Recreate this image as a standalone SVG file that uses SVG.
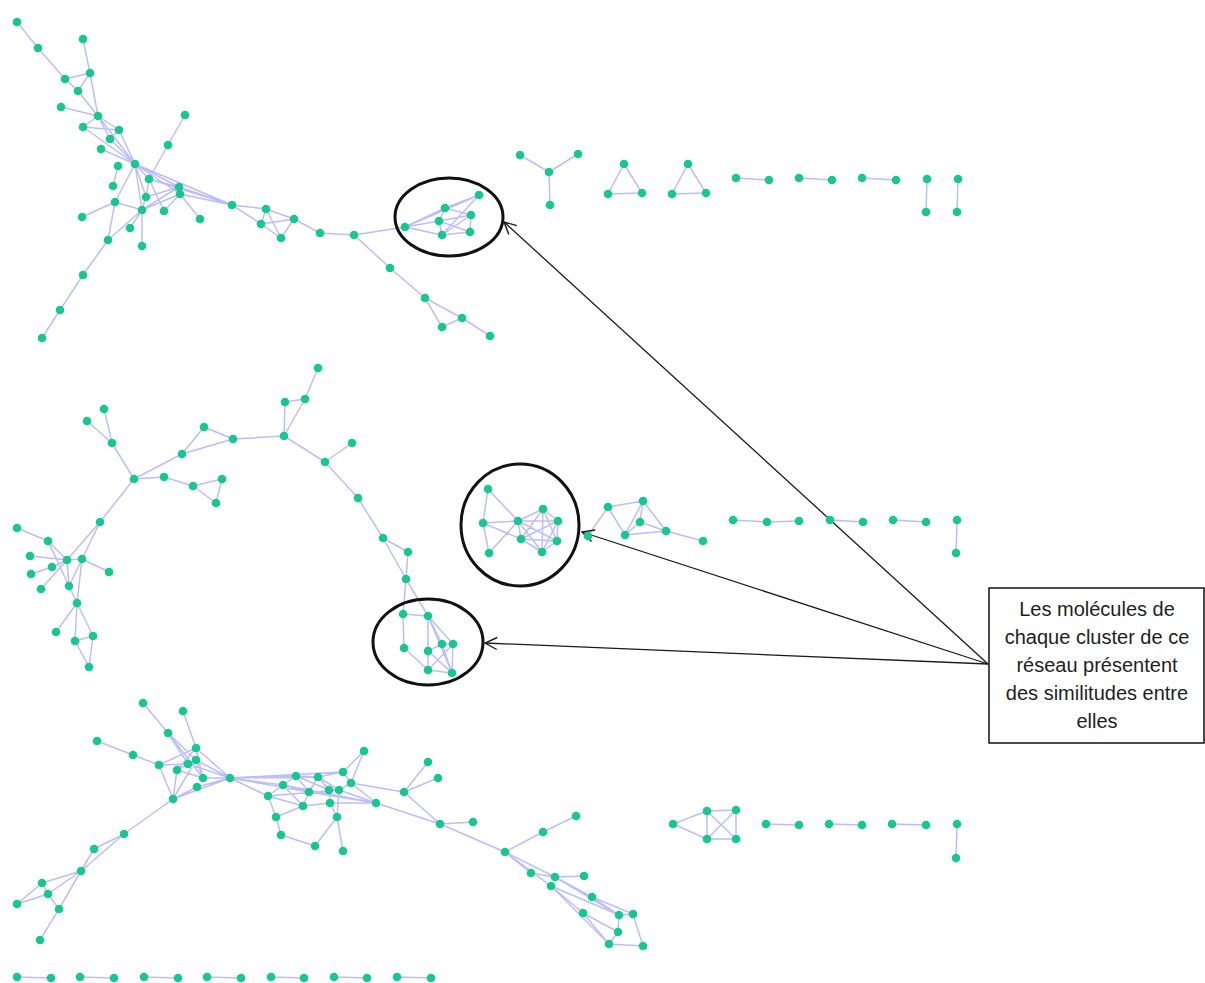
<svg xmlns="http://www.w3.org/2000/svg" width="1205" height="983" viewBox="0 0 1205 983">
<style>
.n{fill:#17c78f}
.e{stroke:#9a9af8;stroke-width:1.5;fill:none;opacity:.65}
.ring{fill:none;stroke:#111;stroke-width:3}
.arr{stroke:#1a1a1a;stroke-width:1.3;fill:none}
.t{font-family:"Liberation Sans",Arial,sans-serif;font-size:20px;fill:#1e1e1e;text-anchor:middle}
</style>
<defs>
<marker id="ah" markerUnits="userSpaceOnUse" markerWidth="16" markerHeight="16" viewBox="0 0 16 16" refX="15" refY="8" orient="auto">
<path d="M3,2 L15,8 L3,14" fill="none" stroke="#1a1a1a" stroke-width="1.4"/>
</marker>
</defs>
<rect width="1205" height="983" fill="#fff"/>
<g id="connectors">
<path class="e" d="M17 22L38 48M38 48L65 79M65 79L78 91M78 91L98 116M65 79L90 73M78 91L90 73M83 39L90 73M90 73L98 116M61 107L98 116M98 116L119 130M98 116L110 139M98 116L83 127M83 127L119 130M119 130L110 139M98 116L135 164M110 139L135 164M101 149L135 164M119 130L135 164M83 127L135 164M185 115L168 145M168 145L149 179M135 164L149 179M135 164L180 194M135 164L179 187M135 164L146 197M135 164L142 210M135 164L115 202M118 166L113 186M149 179L179 187M149 179L146 197M149 179L164 211M146 197L142 210M146 197L179 187M179 187L142 210M180 194L164 211M180 194L142 210M180 194L200 219M180 194L232 205M179 187L232 205M149 179L232 205M135 164L232 205M115 202L82 217M115 202L142 210M115 202L108 240M142 210L108 240M142 210L142 246M130 228L142 210M108 240L83 275M83 275L60 310M60 310L42 338M232 205L266 209M232 205L261 224M266 209L261 224M266 209L281 238M266 209L294 219M261 224L281 238M281 238L294 219M261 224L294 219M294 219L320 233M320 233L354 235M354 235L405 227M354 235L390 268M390 268L425 298M425 298L462 318M425 298L442 327M442 327L462 318M462 318L490 336M405 227L445 208M405 227L439 221M405 227L442 235M405 227L479 195M445 208L479 195M445 208L471 215M439 221L471 215M439 221L442 235M442 235L471 215M442 235L470 232M471 215L470 232M479 195L442 235M445 208L439 221M439 221L470 232"/>
<path class="e" d="M520 155L549 172M578 154L549 172M549 172L550 205M624 164L608 194M624 164L642 193M608 194L642 193M688 164L672 194M688 164L706 193M672 194L706 193M736 178L769 180M799 178L832 180M862 178L896 180M927 179L926 212M958 179L957 212"/>
<path class="e" d="M318 368L305 399M305 399L285 402M285 402L284 436M305 399L284 436M284 436L233 439M233 439L204 427M204 427L182 454M233 439L182 454M182 454L134 479M134 479L112 443M112 443L104 409M112 443L87 421M134 479L164 477M164 477L193 486M193 486L222 479M222 479L216 503M193 486L216 503M134 479L100 522M100 522L67 560M100 522L69 586M284 436L325 462M325 462L352 443M325 462L358 498M358 498L383 538M17 528L48 541M48 541L67 560M48 541L69 586M30 556L67 560M52 567L67 560M31 574L52 567M41 589L67 560M67 560L82 559M82 559L109 572M67 560L69 586M69 586L77 603M82 559L77 603M77 603L56 632M77 603L75 641M77 603L93 636M75 641L93 636M93 636L89 667M75 641L89 667M383 538L408 552M383 538L406 579M408 552L406 579M406 579L428 616M406 579L403 614M403 614L428 616M403 614L404 648M428 616L428 651M428 616L442 644M428 616L453 644M428 616L452 673M404 648L428 670M428 651L442 644M442 644L453 644M428 651L452 673M428 670L452 673M442 644L452 673M453 644L452 673M428 670L453 644M428 651L428 670"/>
<path class="e" d="M488 489L483 523M488 489L518 521M483 523L518 521M483 523L489 553M489 553L518 521M483 523L521 539M518 521L543 509M518 521L558 521M518 521L557 541M518 521L542 552M518 521L521 539M521 539L543 509M521 539L558 521M521 539L557 541M521 539L542 552M543 509L558 521M543 509L557 541M543 509L542 552M558 521L557 541M558 521L542 552M557 541L542 552M588 536L608 507M608 507L643 501M608 507L625 535M643 501L640 522M643 501L666 531M643 501L625 535M640 522L625 535M640 522L666 531M625 535L666 531M666 531L703 541M733 520L767 522M767 522L799 521M830 520L863 522M893 520L926 522M957 520L956 553"/>
<path class="e" d="M143 703L168 733M168 733L196 760M168 733L203 778M168 733L188 764M183 711L196 748M196 748L230 778M196 748L177 770M196 748L203 778M97 741L133 755M133 755L159 765M159 765L173 799M159 765L188 764M159 765L196 748M177 770L188 764M188 764L196 760M196 760L203 778M203 778L230 778M197 787L230 778M173 799L197 787M173 799L230 778M173 799L196 760M177 770L203 778M177 770L173 799M188 764L230 778M196 760L230 778M173 799L124 834M124 834L94 849M124 834L81 871M94 849L81 871M81 871L42 883M81 871L48 894M81 871L59 909M42 883L17 904M48 894L17 904M42 883L48 894M48 894L59 909M59 909L40 940M230 778L268 796M230 778L283 785M230 778L296 776M230 778L318 777M230 778L343 772M230 778L309 792M296 776L318 777M296 776L283 785M283 785L268 796M318 777L343 772M318 777L309 792M318 777L329 790M343 772L364 751M351 783L364 751M343 772L351 783M283 785L309 792M268 796L303 806M268 796L276 817M309 792L303 806M329 790L339 790M329 790L330 803M339 790L351 783M339 790L376 803M351 783L376 803M303 806L330 803M330 803L376 803M268 796L339 790M296 776L329 790M276 817L303 806M276 817L281 835M281 835L315 846M315 846L337 817M337 817L343 851M337 817L330 803M337 817L339 790M309 792L376 803M283 785L376 803M318 777L339 790M296 776L309 792M283 785L303 806M351 783L404 792M404 792L428 762M404 792L438 778M404 792L440 824M376 803L440 824M440 824L473 822M440 824L505 852M505 852L543 832M543 832L576 816M505 852L531 873M505 852L555 877M505 852L551 886M555 877L584 876M531 873L555 877M555 877L592 897M551 886L583 913M551 886L609 944M592 897L633 914M592 897L619 915M583 913L618 932M583 913L609 944M619 915L618 932M618 932L609 944M609 944L643 946M633 914L643 946M619 915L633 914M551 886L619 915M555 877L619 915"/>
<path class="e" d="M673 824L707 811M673 824L707 839M707 811L736 810M707 839L736 839M707 811L707 839M736 810L736 839M707 811L736 839M736 810L707 839M766 824L799 825M829 824L862 825M892 824L926 825M957 824L956 858M17 977L51 978M80 977L114 978M144 977L178 978M207 977L241 978M271 977L304 978M334 977L367 978M397 977L431 978"/>
<line class="arr" x1="988" y1="664" x2="504" y2="222" marker-end="url(#ah)"/>
<line class="arr" x1="988" y1="664" x2="582" y2="532" marker-end="url(#ah)"/>
<line class="arr" x1="988" y1="664" x2="485" y2="643" marker-end="url(#ah)"/>
</g>
<g id="rings">
<ellipse class="ring" cx="449" cy="217" rx="54" ry="39"/>
<ellipse class="ring" cx="520" cy="525" rx="59" ry="61"/>
<ellipse class="ring" cx="428" cy="642" rx="55" ry="43"/>
</g>
<g id="nodes">
<g id="a1"><circle class="n" cx="17" cy="22" r="4.3"/></g>
<g id="a2"><circle class="n" cx="38" cy="48" r="4.3"/></g>
<g id="a3"><circle class="n" cx="83" cy="39" r="4.3"/></g>
<g id="a4"><circle class="n" cx="90" cy="73" r="4.3"/></g>
<g id="a5"><circle class="n" cx="65" cy="79" r="4.3"/></g>
<g id="a6"><circle class="n" cx="78" cy="91" r="4.3"/></g>
<g id="a7"><circle class="n" cx="61" cy="107" r="4.3"/></g>
<g id="a8"><circle class="n" cx="98" cy="116" r="4.3"/></g>
<g id="a9"><circle class="n" cx="83" cy="127" r="4.3"/></g>
<g id="a10"><circle class="n" cx="119" cy="130" r="4.3"/></g>
<g id="a11"><circle class="n" cx="110" cy="139" r="4.3"/></g>
<g id="a12"><circle class="n" cx="101" cy="149" r="4.3"/></g>
<g id="a13"><circle class="n" cx="185" cy="115" r="4.3"/></g>
<g id="a14"><circle class="n" cx="168" cy="145" r="4.3"/></g>
<g id="a15"><circle class="n" cx="135" cy="164" r="4.3"/></g>
<g id="a16"><circle class="n" cx="118" cy="166" r="4.3"/></g>
<g id="a17"><circle class="n" cx="149" cy="179" r="4.3"/></g>
<g id="a18"><circle class="n" cx="113" cy="186" r="4.3"/></g>
<g id="a19"><circle class="n" cx="179" cy="187" r="4.3"/></g>
<g id="a20"><circle class="n" cx="180" cy="194" r="4.3"/></g>
<g id="a21"><circle class="n" cx="146" cy="197" r="4.3"/></g>
<g id="a22"><circle class="n" cx="115" cy="202" r="4.3"/></g>
<g id="a23"><circle class="n" cx="142" cy="210" r="4.3"/></g>
<g id="a24"><circle class="n" cx="164" cy="211" r="4.3"/></g>
<g id="a25"><circle class="n" cx="82" cy="217" r="4.3"/></g>
<g id="a26"><circle class="n" cx="200" cy="219" r="4.3"/></g>
<g id="a27"><circle class="n" cx="130" cy="228" r="4.3"/></g>
<g id="a28"><circle class="n" cx="108" cy="240" r="4.3"/></g>
<g id="a29"><circle class="n" cx="142" cy="246" r="4.3"/></g>
<g id="a30"><circle class="n" cx="83" cy="275" r="4.3"/></g>
<g id="a31"><circle class="n" cx="60" cy="310" r="4.3"/></g>
<g id="a32"><circle class="n" cx="42" cy="338" r="4.3"/></g>
<g id="a33"><circle class="n" cx="232" cy="205" r="4.3"/></g>
<g id="a34"><circle class="n" cx="266" cy="209" r="4.3"/></g>
<g id="a35"><circle class="n" cx="261" cy="224" r="4.3"/></g>
<g id="a36"><circle class="n" cx="281" cy="238" r="4.3"/></g>
<g id="a37"><circle class="n" cx="294" cy="219" r="4.3"/></g>
<g id="a38"><circle class="n" cx="320" cy="233" r="4.3"/></g>
<g id="a39"><circle class="n" cx="354" cy="235" r="4.3"/></g>
<g id="a40"><circle class="n" cx="405" cy="227" r="4.3"/></g>
<g id="a41"><circle class="n" cx="445" cy="208" r="4.3"/></g>
<g id="a42"><circle class="n" cx="439" cy="221" r="4.3"/></g>
<g id="a43"><circle class="n" cx="442" cy="235" r="4.3"/></g>
<g id="a44"><circle class="n" cx="479" cy="195" r="4.3"/></g>
<g id="a45"><circle class="n" cx="471" cy="215" r="4.3"/></g>
<g id="a46"><circle class="n" cx="470" cy="232" r="4.3"/></g>
<g id="a47"><circle class="n" cx="390" cy="268" r="4.3"/></g>
<g id="a48"><circle class="n" cx="425" cy="298" r="4.3"/></g>
<g id="a49"><circle class="n" cx="462" cy="318" r="4.3"/></g>
<g id="a50"><circle class="n" cx="442" cy="327" r="4.3"/></g>
<g id="a51"><circle class="n" cx="490" cy="336" r="4.3"/></g>
<g id="b1"><circle class="n" cx="520" cy="155" r="4.3"/></g>
<g id="b2"><circle class="n" cx="578" cy="154" r="4.3"/></g>
<g id="b3"><circle class="n" cx="549" cy="172" r="4.3"/></g>
<g id="b4"><circle class="n" cx="550" cy="205" r="4.3"/></g>
<g id="b5"><circle class="n" cx="624" cy="164" r="4.3"/></g>
<g id="b6"><circle class="n" cx="608" cy="194" r="4.3"/></g>
<g id="b7"><circle class="n" cx="642" cy="193" r="4.3"/></g>
<g id="b8"><circle class="n" cx="688" cy="164" r="4.3"/></g>
<g id="b9"><circle class="n" cx="672" cy="194" r="4.3"/></g>
<g id="b10"><circle class="n" cx="706" cy="193" r="4.3"/></g>
<g id="b11"><circle class="n" cx="736" cy="178" r="4.3"/></g>
<g id="b12"><circle class="n" cx="769" cy="180" r="4.3"/></g>
<g id="b13"><circle class="n" cx="799" cy="178" r="4.3"/></g>
<g id="b14"><circle class="n" cx="832" cy="180" r="4.3"/></g>
<g id="b15"><circle class="n" cx="862" cy="178" r="4.3"/></g>
<g id="b16"><circle class="n" cx="896" cy="180" r="4.3"/></g>
<g id="b17"><circle class="n" cx="927" cy="179" r="4.3"/></g>
<g id="b18"><circle class="n" cx="926" cy="212" r="4.3"/></g>
<g id="b19"><circle class="n" cx="958" cy="179" r="4.3"/></g>
<g id="b20"><circle class="n" cx="957" cy="212" r="4.3"/></g>
<g id="c1"><circle class="n" cx="318" cy="368" r="4.3"/></g>
<g id="c2"><circle class="n" cx="305" cy="399" r="4.3"/></g>
<g id="c3"><circle class="n" cx="285" cy="402" r="4.3"/></g>
<g id="c4"><circle class="n" cx="284" cy="436" r="4.3"/></g>
<g id="c5"><circle class="n" cx="233" cy="439" r="4.3"/></g>
<g id="c6"><circle class="n" cx="204" cy="427" r="4.3"/></g>
<g id="c7"><circle class="n" cx="182" cy="454" r="4.3"/></g>
<g id="c8"><circle class="n" cx="352" cy="443" r="4.3"/></g>
<g id="c9"><circle class="n" cx="325" cy="462" r="4.3"/></g>
<g id="c10"><circle class="n" cx="358" cy="498" r="4.3"/></g>
<g id="c11"><circle class="n" cx="104" cy="409" r="4.3"/></g>
<g id="c12"><circle class="n" cx="87" cy="421" r="4.3"/></g>
<g id="c13"><circle class="n" cx="112" cy="443" r="4.3"/></g>
<g id="c14"><circle class="n" cx="134" cy="479" r="4.3"/></g>
<g id="c15"><circle class="n" cx="164" cy="477" r="4.3"/></g>
<g id="c16"><circle class="n" cx="193" cy="486" r="4.3"/></g>
<g id="c17"><circle class="n" cx="222" cy="479" r="4.3"/></g>
<g id="c18"><circle class="n" cx="216" cy="503" r="4.3"/></g>
<g id="c19"><circle class="n" cx="100" cy="522" r="4.3"/></g>
<g id="c20"><circle class="n" cx="17" cy="528" r="4.3"/></g>
<g id="c21"><circle class="n" cx="48" cy="541" r="4.3"/></g>
<g id="c22"><circle class="n" cx="30" cy="556" r="4.3"/></g>
<g id="c23"><circle class="n" cx="67" cy="560" r="4.3"/></g>
<g id="c24"><circle class="n" cx="82" cy="559" r="4.3"/></g>
<g id="c25"><circle class="n" cx="52" cy="567" r="4.3"/></g>
<g id="c26"><circle class="n" cx="31" cy="574" r="4.3"/></g>
<g id="c27"><circle class="n" cx="109" cy="572" r="4.3"/></g>
<g id="c28"><circle class="n" cx="41" cy="589" r="4.3"/></g>
<g id="c29"><circle class="n" cx="69" cy="586" r="4.3"/></g>
<g id="c30"><circle class="n" cx="77" cy="603" r="4.3"/></g>
<g id="c31"><circle class="n" cx="56" cy="632" r="4.3"/></g>
<g id="c32"><circle class="n" cx="75" cy="641" r="4.3"/></g>
<g id="c33"><circle class="n" cx="93" cy="636" r="4.3"/></g>
<g id="c34"><circle class="n" cx="89" cy="667" r="4.3"/></g>
<g id="c35"><circle class="n" cx="383" cy="538" r="4.3"/></g>
<g id="c36"><circle class="n" cx="408" cy="552" r="4.3"/></g>
<g id="c37"><circle class="n" cx="406" cy="579" r="4.3"/></g>
<g id="c38"><circle class="n" cx="403" cy="614" r="4.3"/></g>
<g id="c39"><circle class="n" cx="428" cy="616" r="4.3"/></g>
<g id="c40"><circle class="n" cx="404" cy="648" r="4.3"/></g>
<g id="c41"><circle class="n" cx="428" cy="651" r="4.3"/></g>
<g id="c42"><circle class="n" cx="442" cy="644" r="4.3"/></g>
<g id="c43"><circle class="n" cx="453" cy="644" r="4.3"/></g>
<g id="c44"><circle class="n" cx="428" cy="670" r="4.3"/></g>
<g id="c45"><circle class="n" cx="452" cy="673" r="4.3"/></g>
<g id="d1"><circle class="n" cx="488" cy="489" r="4.3"/></g>
<g id="d2"><circle class="n" cx="483" cy="523" r="4.3"/></g>
<g id="d3"><circle class="n" cx="489" cy="553" r="4.3"/></g>
<g id="d4"><circle class="n" cx="518" cy="521" r="4.3"/></g>
<g id="d5"><circle class="n" cx="521" cy="539" r="4.3"/></g>
<g id="d6"><circle class="n" cx="543" cy="509" r="4.3"/></g>
<g id="d7"><circle class="n" cx="558" cy="521" r="4.3"/></g>
<g id="d8"><circle class="n" cx="557" cy="541" r="4.3"/></g>
<g id="d9"><circle class="n" cx="542" cy="552" r="4.3"/></g>
<g id="e1"><circle class="n" cx="588" cy="536" r="4.3"/></g>
<g id="e2"><circle class="n" cx="608" cy="507" r="4.3"/></g>
<g id="e3"><circle class="n" cx="643" cy="501" r="4.3"/></g>
<g id="e4"><circle class="n" cx="640" cy="522" r="4.3"/></g>
<g id="e5"><circle class="n" cx="625" cy="535" r="4.3"/></g>
<g id="e6"><circle class="n" cx="666" cy="531" r="4.3"/></g>
<g id="e7"><circle class="n" cx="703" cy="541" r="4.3"/></g>
<g id="f1"><circle class="n" cx="733" cy="520" r="4.3"/></g>
<g id="f2"><circle class="n" cx="767" cy="522" r="4.3"/></g>
<g id="f3"><circle class="n" cx="799" cy="521" r="4.3"/></g>
<g id="f4"><circle class="n" cx="830" cy="520" r="4.3"/></g>
<g id="f5"><circle class="n" cx="863" cy="522" r="4.3"/></g>
<g id="f6"><circle class="n" cx="893" cy="520" r="4.3"/></g>
<g id="f7"><circle class="n" cx="926" cy="522" r="4.3"/></g>
<g id="f8"><circle class="n" cx="957" cy="520" r="4.3"/></g>
<g id="f9"><circle class="n" cx="956" cy="553" r="4.3"/></g>
<g id="g1"><circle class="n" cx="143" cy="703" r="4.3"/></g>
<g id="g2"><circle class="n" cx="183" cy="711" r="4.3"/></g>
<g id="g3"><circle class="n" cx="97" cy="741" r="4.3"/></g>
<g id="g4"><circle class="n" cx="168" cy="733" r="4.3"/></g>
<g id="g5"><circle class="n" cx="133" cy="755" r="4.3"/></g>
<g id="g6"><circle class="n" cx="196" cy="748" r="4.3"/></g>
<g id="g7"><circle class="n" cx="159" cy="765" r="4.3"/></g>
<g id="g8"><circle class="n" cx="177" cy="770" r="4.3"/></g>
<g id="g9"><circle class="n" cx="188" cy="764" r="4.3"/></g>
<g id="g10"><circle class="n" cx="196" cy="760" r="4.3"/></g>
<g id="g11"><circle class="n" cx="203" cy="778" r="4.3"/></g>
<g id="g12"><circle class="n" cx="197" cy="787" r="4.3"/></g>
<g id="g13"><circle class="n" cx="230" cy="778" r="4.3"/></g>
<g id="g14"><circle class="n" cx="173" cy="799" r="4.3"/></g>
<g id="g15"><circle class="n" cx="124" cy="834" r="4.3"/></g>
<g id="g16"><circle class="n" cx="94" cy="849" r="4.3"/></g>
<g id="g17"><circle class="n" cx="81" cy="871" r="4.3"/></g>
<g id="g18"><circle class="n" cx="42" cy="883" r="4.3"/></g>
<g id="g19"><circle class="n" cx="48" cy="894" r="4.3"/></g>
<g id="g20"><circle class="n" cx="17" cy="904" r="4.3"/></g>
<g id="g21"><circle class="n" cx="59" cy="909" r="4.3"/></g>
<g id="g22"><circle class="n" cx="40" cy="940" r="4.3"/></g>
<g id="g23"><circle class="n" cx="364" cy="751" r="4.3"/></g>
<g id="g24"><circle class="n" cx="343" cy="772" r="4.3"/></g>
<g id="g25"><circle class="n" cx="351" cy="783" r="4.3"/></g>
<g id="g26"><circle class="n" cx="296" cy="776" r="4.3"/></g>
<g id="g27"><circle class="n" cx="318" cy="777" r="4.3"/></g>
<g id="g28"><circle class="n" cx="283" cy="785" r="4.3"/></g>
<g id="g29"><circle class="n" cx="268" cy="796" r="4.3"/></g>
<g id="g30"><circle class="n" cx="309" cy="792" r="4.3"/></g>
<g id="g31"><circle class="n" cx="329" cy="790" r="4.3"/></g>
<g id="g32"><circle class="n" cx="339" cy="790" r="4.3"/></g>
<g id="g33"><circle class="n" cx="303" cy="806" r="4.3"/></g>
<g id="g34"><circle class="n" cx="330" cy="803" r="4.3"/></g>
<g id="g35"><circle class="n" cx="376" cy="803" r="4.3"/></g>
<g id="g36"><circle class="n" cx="276" cy="817" r="4.3"/></g>
<g id="g37"><circle class="n" cx="337" cy="817" r="4.3"/></g>
<g id="g38"><circle class="n" cx="281" cy="835" r="4.3"/></g>
<g id="g39"><circle class="n" cx="315" cy="846" r="4.3"/></g>
<g id="g40"><circle class="n" cx="343" cy="851" r="4.3"/></g>
<g id="g41"><circle class="n" cx="404" cy="792" r="4.3"/></g>
<g id="g42"><circle class="n" cx="428" cy="762" r="4.3"/></g>
<g id="g43"><circle class="n" cx="438" cy="778" r="4.3"/></g>
<g id="g44"><circle class="n" cx="440" cy="824" r="4.3"/></g>
<g id="g45"><circle class="n" cx="473" cy="822" r="4.3"/></g>
<g id="g46"><circle class="n" cx="505" cy="852" r="4.3"/></g>
<g id="g47"><circle class="n" cx="543" cy="832" r="4.3"/></g>
<g id="g48"><circle class="n" cx="576" cy="816" r="4.3"/></g>
<g id="g49"><circle class="n" cx="531" cy="873" r="4.3"/></g>
<g id="g50"><circle class="n" cx="555" cy="877" r="4.3"/></g>
<g id="g51"><circle class="n" cx="584" cy="876" r="4.3"/></g>
<g id="g52"><circle class="n" cx="551" cy="886" r="4.3"/></g>
<g id="g53"><circle class="n" cx="592" cy="897" r="4.3"/></g>
<g id="g54"><circle class="n" cx="583" cy="913" r="4.3"/></g>
<g id="g55"><circle class="n" cx="619" cy="915" r="4.3"/></g>
<g id="g56"><circle class="n" cx="633" cy="914" r="4.3"/></g>
<g id="g57"><circle class="n" cx="618" cy="932" r="4.3"/></g>
<g id="g58"><circle class="n" cx="609" cy="944" r="4.3"/></g>
<g id="g59"><circle class="n" cx="643" cy="946" r="4.3"/></g>
<g id="h1"><circle class="n" cx="673" cy="824" r="4.3"/></g>
<g id="h2"><circle class="n" cx="707" cy="811" r="4.3"/></g>
<g id="h3"><circle class="n" cx="736" cy="810" r="4.3"/></g>
<g id="h4"><circle class="n" cx="707" cy="839" r="4.3"/></g>
<g id="h5"><circle class="n" cx="736" cy="839" r="4.3"/></g>
<g id="h6"><circle class="n" cx="766" cy="824" r="4.3"/></g>
<g id="h7"><circle class="n" cx="799" cy="825" r="4.3"/></g>
<g id="h8"><circle class="n" cx="829" cy="824" r="4.3"/></g>
<g id="h9"><circle class="n" cx="862" cy="825" r="4.3"/></g>
<g id="h10"><circle class="n" cx="892" cy="824" r="4.3"/></g>
<g id="h11"><circle class="n" cx="926" cy="825" r="4.3"/></g>
<g id="h12"><circle class="n" cx="957" cy="824" r="4.3"/></g>
<g id="h13"><circle class="n" cx="956" cy="858" r="4.3"/></g>
<g id="k1"><circle class="n" cx="17" cy="977" r="4.3"/></g>
<g id="k2"><circle class="n" cx="51" cy="978" r="4.3"/></g>
<g id="k3"><circle class="n" cx="80" cy="977" r="4.3"/></g>
<g id="k4"><circle class="n" cx="114" cy="978" r="4.3"/></g>
<g id="k5"><circle class="n" cx="144" cy="977" r="4.3"/></g>
<g id="k6"><circle class="n" cx="178" cy="978" r="4.3"/></g>
<g id="k7"><circle class="n" cx="207" cy="977" r="4.3"/></g>
<g id="k8"><circle class="n" cx="241" cy="978" r="4.3"/></g>
<g id="k9"><circle class="n" cx="271" cy="977" r="4.3"/></g>
<g id="k10"><circle class="n" cx="304" cy="978" r="4.3"/></g>
<g id="k11"><circle class="n" cx="334" cy="977" r="4.3"/></g>
<g id="k12"><circle class="n" cx="367" cy="978" r="4.3"/></g>
<g id="k13"><circle class="n" cx="397" cy="977" r="4.3"/></g>
<g id="k14"><circle class="n" cx="431" cy="978" r="4.3"/></g>
</g>
<g id="note">
<rect x="989" y="588" width="215" height="155" fill="#fff" stroke="#111" stroke-width="1.5"/>
<text class="t" x="1097" y="616">Les molécules de</text>
<text class="t" x="1097" y="644">chaque cluster de ce</text>
<text class="t" x="1097" y="672">réseau présentent</text>
<text class="t" x="1097" y="700">des similitudes entre</text>
<text class="t" x="1097" y="728">elles</text>
</g>
</svg>
